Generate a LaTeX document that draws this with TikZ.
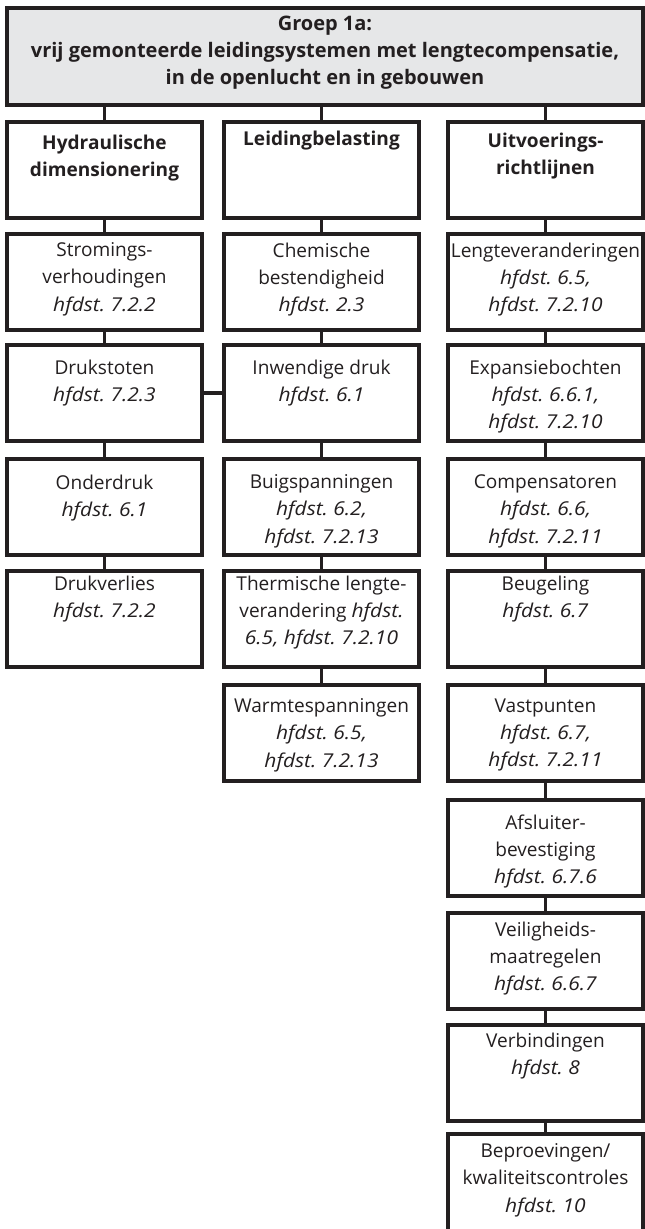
\documentclass[tikz,border=0pt]{standalone}
\usepackage{fontspec}
\setmainfont{Open Sans}[ItalicFeatures={FakeStretch=1.1}]
\frenchspacing
\definecolor{ink}{HTML}{231F20}
\definecolor{panel}{HTML}{E6E7E8}
% text block of a cell: #1 = space above the first line, #2 = lines
\newcommand\celltext[2]{\begin{minipage}[t][66pt][t]{146pt}\centering\vspace*{#1}#2\end{minipage}}
\newcommand\hr[1]{\textit{hfdst. #1}}
\begin{document}
\begin{tikzpicture}[x=0.75pt, y=-0.75pt,
  cell/.style={draw=ink, line width=2.3pt, fill=white, minimum width=146.25pt, minimum height=72pt,
    inner sep=0pt, outer sep=0pt, anchor=north west, text=ink, font=\fontsize{14.3}{20.5}\selectfont},
  headcell/.style={cell, font=\fontsize{14.3}{20.5}\selectfont\bfseries},
  link/.style={draw=ink, line width=2.3pt}]
\useasboundingbox (0,0) rectangle (645,1229);
\clip (0,0) rectangle (645,1229);

% group heading
\node[cell, fill=panel, minimum width=477pt, minimum height=72.75pt, font=\fontsize{15}{20.5}\selectfont\bfseries] (title) at (7,8)
  {\begin{minipage}[t][66pt][t]{470pt}\centering\vspace*{2.5pt}Groep 1a:\\vrij gemonteerde leidingsystemen met lengtecompensatie,\\in de openlucht en in gebouwen\end{minipage}};

% column headings
\node[headcell] (h1) at (7,122)   {\celltext{6.4pt}{Hydraulische\\dimensionering}};
\node[headcell] (h2) at (224,122) {\celltext{4.1pt}{Leidingbelasting}};
\node[headcell] (h3) at (448,122) {\celltext{4.9pt}{Uitvoerings-\\richtlijnen}};

% column 1
\node[cell] (a1) at (7,234) {\celltext{3.4pt}{Stromings-\\verhoudingen\\\hr{7.2.2}}};
\node[cell] (a2) at (7,345) {\celltext{7.9pt}{Drukstoten\\\hr{7.2.3}}};
\node[cell] (a3) at (7,459) {\celltext{8.7pt}{Onderdruk\\\hr{6.1}}};
\node[cell] (a4) at (7,571) {\celltext{0.6pt}{Drukverlies\\\hr{7.2.2}}};

% column 2
\node[cell] (b1) at (224,234) {\celltext{3.4pt}{Chemische\\bestendigheid\\\hr{2.3}}};
\node[cell] (b2) at (224,345) {\celltext{7.9pt}{Inwendige druk\\\hr{6.1}}};
\node[cell] (b3) at (224,459) {\celltext{8.7pt}{Buigspanningen\\\hr{6.2,}\\\hr{7.2.13}}};
\node[cell] (b4) at (224,571) {\celltext{0.6pt}{Thermische lengte-\\verandering \textit{hfdst.}\\\textit{6.5, hfdst. 7.2.10}}};
\node[cell] (b5) at (224,685) {\celltext{7.1pt}{Warmtespanningen\\\hr{6.5,}\\\hr{7.2.13}}};

% column 3
\node[cell] (c1) at (448,234)  {\celltext{3.4pt}{Lengteveranderingen\\\hr{6.5,}\\\hr{7.2.10}}};
\node[cell] (c2) at (448,345)  {\celltext{7.9pt}{Expansiebochten\\\hr{6.6.1,}\\\hr{7.2.10}}};
\node[cell] (c3) at (448,459)  {\celltext{8.7pt}{Compensatoren\\\hr{6.6,}\\\hr{7.2.11}}};
\node[cell] (c4) at (448,571)  {\celltext{0.6pt}{Beugeling\\\hr{6.7}}};
\node[cell] (c5) at (448,685)  {\celltext{7.1pt}{Vastpunten\\\hr{6.7,}\\\hr{7.2.11}}};
\node[cell] (c6) at (448,800)  {\celltext{7.9pt}{Afsluiter-\\bevestiging\\\hr{6.7.6}}};
\node[cell] (c7) at (448,913)  {\celltext{3.4pt}{Veiligheids-\\maatregelen\\\hr{6.6.7}}};
\node[cell] (c8) at (448,1025) {\celltext{2.7pt}{Verbindingen\\\hr{8}}};
\node[cell, minimum height=74.25pt] (c9) at (448,1134)
  {\begin{minipage}[t][68pt][t]{146pt}\centering\vspace*{4.1pt}Beproevingen/\\kwaliteitscontroles\\\hr{10}\end{minipage}};

% connectors
\foreach \h in {h1,h2,h3} \draw[link] (title.south -| \h.north) -- (\h.north);
\draw[link] (h1.south) -- (a1.north);
\draw[link] (a1.south) -- (a2.north);
\draw[link] (a2.south) -- (a3.north);
\draw[link] (a3.south) -- (a4.north);
\draw[link] (h2.south) -- (b1.north);
\draw[link] (b1.south) -- (b2.north);
\draw[link] (b2.south) -- (b3.north);
\draw[link] (b3.south) -- (b4.north);
\draw[link] (b4.south) -- (b5.north);
\draw[link] (h3.south) -- (c1.north);
\draw[link] (c1.south) -- (c2.north);
\draw[link] (c2.south) -- (c3.north);
\draw[link] (c3.south) -- (c4.north);
\draw[link] (c4.south) -- (c5.north);
\draw[link] (c5.south) -- (c6.north);
\draw[link] (c6.south) -- (c7.north);
\draw[link] (c7.south) -- (c8.north);
\draw[link] (c8.south) -- (c9.north);
\draw[link] (a2.east) -- (b2.west);
\end{tikzpicture}
\end{document}
